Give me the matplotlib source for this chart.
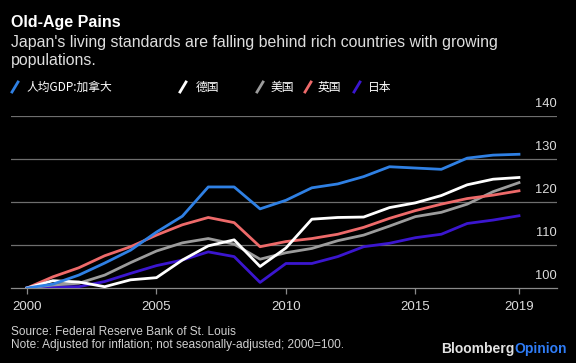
import matplotlib
matplotlib.use("Agg")
import matplotlib.pyplot as plt
from matplotlib.lines import Line2D
from matplotlib.transforms import offset_copy

years = list(range(2000, 2020))
canada = [100, 100.9, 103.0, 105.8, 108.8, 113.0, 116.7, 123.5, 123.5, 118.4,
          120.4, 123.3, 124.2, 125.9, 128.2, 127.9, 127.6, 130.2, 130.9, 131.1]
germany = [100, 101.7, 101.4, 100.3, 101.9, 102.4, 106.5, 109.8, 111.2, 105.0,
           109.3, 116.0, 116.4, 116.5, 118.7, 119.8, 121.5, 124.0, 125.3, 125.7]
usa = [100, 100.7, 101.1, 103.0, 105.9, 108.6, 110.5, 111.5, 110.2, 106.7,
       108.2, 109.2, 111.0, 112.3, 114.4, 116.6, 117.6, 119.5, 122.4, 124.5]
uk = [100, 102.6, 104.7, 107.5, 109.6, 112.3, 114.7, 116.4, 115.2, 109.6,
      110.8, 111.5, 112.5, 114.1, 116.2, 118.0, 119.5, 120.8, 121.6, 122.6]
japan = [100, 100.3, 100.3, 101.5, 103.4, 105.2, 106.5, 108.4, 107.3, 101.3,
         105.7, 105.7, 107.3, 109.6, 110.4, 111.7, 112.5, 115.0, 115.8, 116.8]

labels = ['人均GDP:加拿大', '德国', '美国', '英国', '日本']
colors = ['#2f80e4', '#ffffff', '#9c9c9c', '#ee6a6a', '#3b16cf']

xticks = [2000, 2005, 2010, 2015, 2019]
yticks = [100, 110, 120, 130, 140]

plt.rcParams['font.family'] = ['Liberation Sans', 'DejaVu Sans']
cjk = ['Noto Sans CJK SC', 'DejaVu Sans']

W, H = 576, 363
fig = plt.figure(figsize=(W / 100, H / 100), dpi=100, facecolor='black')
ax = fig.add_axes([11 / W, 1 - 288 / H, 546 / W, 172 / H], facecolor='black')

# stacking as in the reference: Canada and Germany on top
for vals, c in zip([japan, usa, uk, germany, canada],
                   [colors[4], colors[2], colors[3], colors[1], colors[0]]):
    ax.plot(years, vals, color=c, lw=2.0, zorder=3)

ax.set_xlim(1999.382, 2020.468)
ax.set_ylim(100, 140)

for v in yticks[1:]:
    ax.axhline(v, color='#6e6e6e', lw=0.9, zorder=1)
for s in ['top', 'right', 'left']:
    ax.spines[s].set_visible(False)
ax.spines['bottom'].set_color('#8a8a8a')
ax.spines['bottom'].set_linewidth(0.9)

ax.set_xticks(xticks)
ax.set_xticklabels([str(x) for x in xticks])
ax.tick_params(axis='x', colors='#8a8a8a', length=4, width=0.9, pad=5,
               labelsize=9.5, labelcolor='#dcdcdc')
ax.set_yticks([])

ytr = offset_copy(ax.get_yaxis_transform(), fig=fig, x=0, y=8.5, units='points')
for v in yticks:
    ax.text(1.0, v, str(v), transform=ytr, ha='right', va='center',
            fontsize=9.3, color='#dcdcdc')

# titles
fig.text(11 / W, 1 - 22.5 / H, 'Old-Age Pains', fontsize=11.5, fontweight='bold',
         color='white', va='center', ha='left')
fig.text(11 / W, 1 - 42 / H, "Japan's living standards are falling behind rich countries with growing",
         fontsize=11.4, color='#dedede', va='center', ha='left')
fig.text(11 / W, 1 - 61 / H, 'populations.', fontsize=11.4, color='#dedede',
         va='center', ha='left')

# legend
swatch_x = [12, 180, 257, 305, 354]
text_x = [26, 196, 271, 318, 368]
ly = 87
for sx, tx, lab, c in zip(swatch_x, text_x, labels, colors):
    fig.add_artist(Line2D([sx / W, (sx + 6) / W], [1 - (ly + 5) / H, 1 - (ly - 5) / H],
                          color=c, lw=2.0, transform=fig.transFigure))
    fig.text(tx / W, 1 - ly / H, lab, fontsize=8.5, color='white', va='center',
             ha='left', family=cjk)

# footer
fig.text(11 / W, 1 - 332 / H, 'Source: Federal Reserve Bank of St. Louis',
         fontsize=8.6, color='#d0d0d0', va='center', ha='left')
fig.text(11 / W, 1 - 345 / H, 'Note: Adjusted for inflation; not seasonally-adjusted; 2000=100.',
         fontsize=8.6, color='#d0d0d0', va='center', ha='left')
t1 = fig.text(441 / W, 1 - 349 / H, 'Bloomberg', fontsize=10, fontweight='bold',
              color='#e2e2e2', va='center', ha='left')
ax.annotate('Opinion', xy=(1, 0.5), xycoords=t1, va='center', ha='left',
            fontsize=10, fontweight='bold', color='#2f7cf6', annotation_clip=False)

fig.savefig('out.png', dpi=100, facecolor='black')
